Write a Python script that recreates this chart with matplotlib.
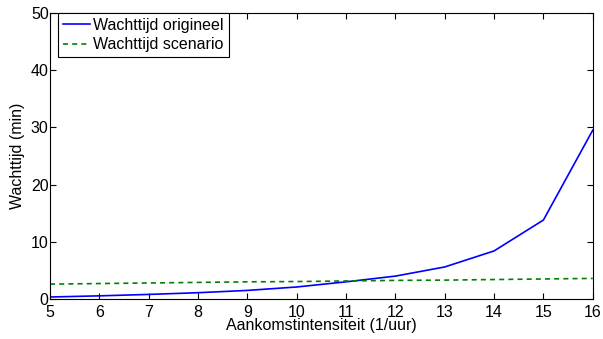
import matplotlib
matplotlib.use("Agg")
import matplotlib.pyplot as plt

# Data
intensiteit = [5, 6, 7, 8, 9, 10, 11, 12, 13, 14, 15, 16]
wacht_origineel = [0.35, 0.55, 0.8, 1.1, 1.5, 2.1, 3.0, 4.0, 5.6, 8.4, 13.8, 29.5]
wacht_scenario = [2.6, 2.7, 2.8, 2.9, 3.0, 3.05, 3.15, 3.25, 3.3, 3.4, 3.5, 3.6]

plt.rcParams["font.family"] = ["Liberation Sans", "DejaVu Sans"]
plt.rcParams["font.size"] = 11.5

fig = plt.figure(figsize=(6.03, 3.39), dpi=100)
ax = fig.add_axes([0.083, 0.118, 0.9, 0.844])

ax.plot(intensiteit, wacht_origineel, color="#0000ff", lw=1.2, label="Wachttijd origineel")
ax.plot(intensiteit, wacht_scenario, color="#008000", lw=1.2, ls=(0, (3, 2.5)),
        label="Wachttijd scenario")

ax.set_xlim(5, 16)
ax.set_ylim(0, 50)
ax.set_xticks(range(5, 17))
ax.set_yticks(range(0, 51, 10))
ax.tick_params(direction="in", top=True, right=True, length=4, labelsize=11.5)
ax.tick_params(axis="x", pad=4)
ax.tick_params(axis="y", pad=1)
for lbl in ax.get_yticklabels():
    lbl.set_verticalalignment("center_baseline")
ax.set_xlabel("Aankomstintensiteit (1/uur)", labelpad=-1, fontsize=11.5)
ax.set_ylabel("Wachttijd (min)", labelpad=4, fontsize=11.5)

leg = ax.legend(loc="upper left", bbox_to_anchor=(0.015, 1.0), fancybox=False,
                edgecolor="black", framealpha=1, borderaxespad=0, fontsize=11.5,
                handlelength=1.7, handletextpad=0.2, labelspacing=0.3, borderpad=0.3)
leg.get_frame().set_linewidth(0.8)

fig.savefig("out.png", dpi=100)
